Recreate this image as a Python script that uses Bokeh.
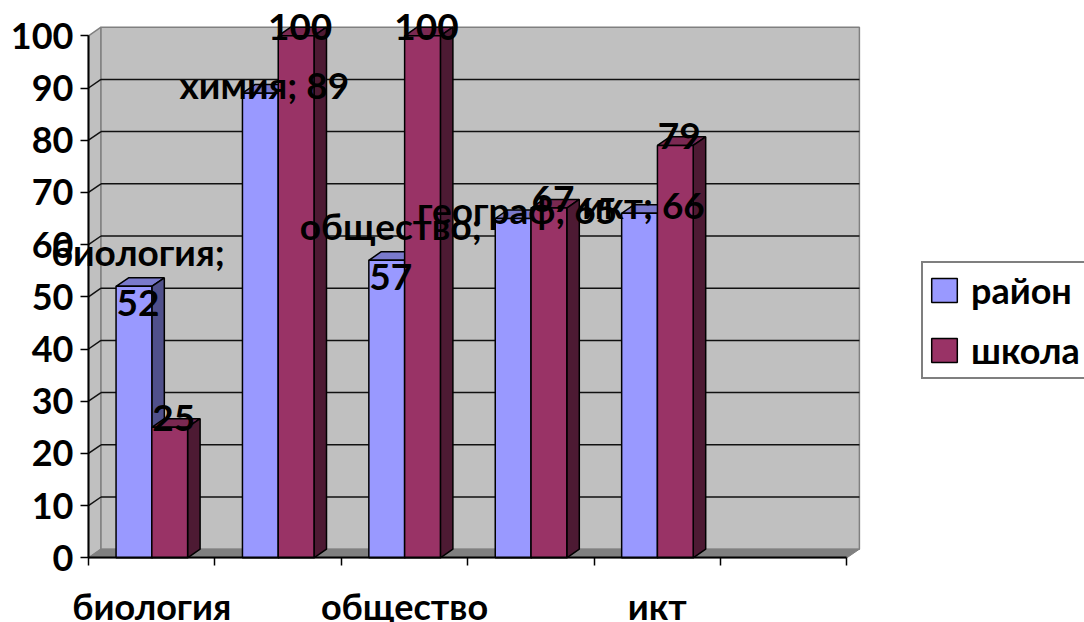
from bokeh.plotting import figure
from bokeh.models import FixedTicker, Legend, LegendItem, ColumnDataSource
from bokeh.core.properties import value
from bokeh.embed import file_html
from bokeh.resources import INLINE

categories = ["биология", "химия", "общество", "географ", "икт"]
rayon = [52, 89, 57, 65, 66]
shkola = [25, 100, 100, 67, 79]
series_names = ["район", "школа"]
tick_labels = {0.5: "биология", 2.5: "общество", 4.5: "икт"}
y_ticks = [0, 10, 20, 30, 40, 50, 60, 70, 80, 90, 100]
slots = 6
rayon_labels = ["биология;\n52", "химия; 89", "общество;\n57", "географ; 65", "икт; 66"]
shkola_labels = ["25", "100", "100", "67", "79"]

FONT = "Lato"
PX_X, PX_Y = 126.4, 5.22
DX, DY = 12.5 / PX_X, 8.6 / PX_Y
W, H = 1084, 622
L0, B0 = 88, 557.3
GAP, BW = 0.218, 0.283
LINE_GAP = 51

p = figure(width=W, height=H, output_backend="svg", toolbar_location=None,
           x_range=(-L0 / PX_X, (W - L0) / PX_X),
           y_range=(-(H - B0) / PX_Y, B0 / PX_Y),
           min_border=0, min_border_left=0, min_border_right=0,
           min_border_top=0, min_border_bottom=0)
p.outline_line_color = None
p.grid.visible = False
p.background_fill_color = "white"

# walls and floor
p.patch([0, DX, DX, 0], [0, DY, 100 + DY, 100], fill_color="#c0c0c0",
        line_color="#808080", line_width=1.5)
p.patch([DX, slots + DX, slots + DX, DX], [DY, DY, 100 + DY, 100 + DY], fill_color="#c0c0c0",
        line_color="#808080", line_width=1.5)
p.patch([0, slots, slots + DX, DX], [0, 0, DY, DY], fill_color="#808080",
        line_color="#808080", line_width=1)

inner = y_ticks[1:-1]
p.segment(x0=[DX] * len(inner), y0=[v + DY for v in inner],
          x1=[slots + DX] * len(inner), y1=[v + DY for v in inner],
          line_color="#111111", line_width=1.5)
p.segment(x0=[0] * len(inner), y0=inner, x1=[DX] * len(inner), y1=[v + DY for v in inner],
          line_color="#111111", line_width=1.5)


def bars(values, start, front, top, side, name):
    x0 = [i + start for i in range(len(values))]
    x1 = [x + BW for x in x0]
    p.patches([[a, b, b + DX, a + DX] for a, b in zip(x0, x1)],
              [[v, v, v + DY, v + DY] for v in values],
              fill_color=top, line_color="black", line_width=1.5)
    p.patches([[b, b + DX, b + DX, b] for b in x1],
              [[0, DY, v + DY, v] for v in values],
              fill_color=side, line_color="black", line_width=1.5)
    src = ColumnDataSource(dict(x=[(a + b) / 2 for a, b in zip(x0, x1)], top=values))
    return p.vbar(x="x", top="top", bottom=0, width=BW, source=src,
                  fill_color=front, line_color="black", line_width=1.5)


r1 = bars(rayon, GAP, "#9999ff", "#7a7acc", "#50508b", series_names[0])
r2 = bars(shkola, GAP + BW, "#993366", "#7a2952", "#4d1a33", series_names[1])

# axes
ax = p.xaxis[0]
ax.fixed_location = 0
ax.bounds = (0, slots)
ax.ticker = FixedTicker(ticks=list(tick_labels), minor_ticks=list(range(slots + 1)))
ax.major_label_overrides = tick_labels
ax.major_tick_line_color = None
ax.major_tick_out = 0
ax.major_tick_in = 0
ax.minor_tick_out = 8
ax.minor_tick_in = 0
ax.minor_tick_line_color = "black"
ax.minor_tick_line_width = 1.5
ax.axis_line_color = "black"
ax.axis_line_width = 2
ax.major_label_standoff = 18
ax.major_label_text_font = FONT
ax.major_label_text_font_style = "bold"
ax.major_label_text_font_size = "36px"
ax.major_label_text_color = "black"

ay = p.yaxis[0]
ay.fixed_location = 0
ay.bounds = (0, 100)
ay.ticker = FixedTicker(ticks=y_ticks, minor_ticks=[])
ay.major_tick_out = 8
ay.major_tick_in = 0
ay.major_tick_line_color = "black"
ay.major_tick_line_width = 1.5
ay.axis_line_color = "black"
ay.axis_line_width = 2
ay.major_label_standoff = 7
ay.major_label_text_font = FONT
ay.major_label_text_font_style = "bold"
ay.major_label_text_font_size = "36px"
ay.major_label_text_color = "black"


# data labels: a wrapped label is two rows centred on the same anchor
def draw_labels(vals, start, labels):
    xs, ys, txt, off = [], [], [], []
    for i, (v, lab) in enumerate(zip(vals, labels)):
        rows = lab.split("\n")
        for j, row in enumerate(rows):
            xs.append(i + start + BW / 2)
            ys.append(v)
            txt.append(row)
            off.append(-9 + (j - (len(rows) - 1) / 2) * LINE_GAP)
    src = ColumnDataSource(dict(x=xs, y=ys, t=txt, off=off))
    p.text(x="x", y="y", text="t", source=src, x_offset=4, y_offset="off",
           text_align="center", text_baseline="middle",
           text_font=value(FONT), text_font_style="bold", text_font_size="37px",
           text_color="black")


draw_labels(rayon, GAP, rayon_labels)
draw_labels(shkola, GAP + BW, shkola_labels)

legend = Legend(items=[LegendItem(label=series_names[0], renderers=[r1]),
                       LegendItem(label=series_names[1], renderers=[r2])],
                location=(921, 243), orientation="vertical",
                glyph_width=32, glyph_height=30, label_standoff=11,
                padding=5, margin=0, spacing=16,
                label_text_font=FONT, label_text_font_style="bold",
                label_text_font_size="36px", label_text_color="black",
                border_line_color="black", border_line_width=2,
                background_fill_color="white", background_fill_alpha=1)
p.add_layout(legend, "center")

open("out.html", "w").write(file_html(p, INLINE))
